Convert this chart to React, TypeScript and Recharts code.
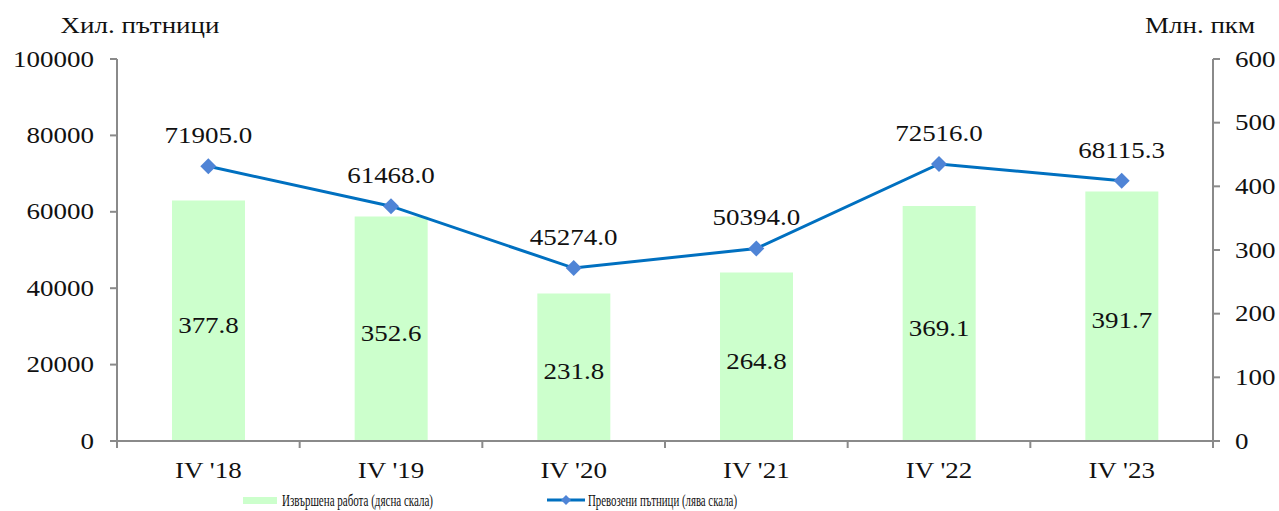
import React from 'react';
import { ComposedChart, Bar, Line, XAxis, YAxis, Legend, LabelList } from 'recharts';

const categories = ["IV '18", "IV '19", "IV '20", "IV '21", "IV '22", "IV '23"];
const passengers = [71905.0, 61468.0, 45274.0, 50394.0, 72516.0, 68115.3];
const work = [377.8, 352.6, 231.8, 264.8, 369.1, 391.7];
const leftTicks = [0, 20000, 40000, 60000, 80000, 100000];
const rightTicks = [0, 100, 200, 300, 400, 500, 600];

const CHART_W = 1279;
const CHART_H = 511;
const LEFT_W = 117;
const RIGHT_W = 66;
const BAND = (CHART_W - LEFT_W - RIGHT_W) / categories.length;

const FONT = '"Liberation Serif", "Times New Roman", serif';
const TEXT = '#111111';
const AXIS = '#8a8a8a';
const STRETCH = 1.2;

const data = categories.map((name, i) => ({ name, passengers: passengers[i], work: work[i] }));

// wide serif text, like the original
const Wide = ({ x, y, anchor, children, size = 22.5 }: any) => (
    <g transform={`translate(${x},${y})`}>
        <text transform={`scale(${STRETCH},1)`} textAnchor={anchor} fontFamily={FONT} fontSize={size} fill={TEXT}>
            {children}
        </text>
    </g>
);

const LeftTick = ({ x, y, payload }: any) => (
    <Wide x={x} y={y + 7.5} anchor="end">{payload.value}</Wide>
);

const RightTick = ({ x, y, payload }: any) => (
    <Wide x={x} y={y + 7.5} anchor="start">{payload.value}</Wide>
);

const CatTick = ({ x, y, payload, index }: any) => (
    <g>
        <line x1={x - BAND / 2} x2={x - BAND / 2} y1={y} y2={y + 7} stroke={AXIS} strokeWidth={2} />
        {index === categories.length - 1 && (
            <line x1={x + BAND / 2} x2={x + BAND / 2} y1={y} y2={y + 7} stroke={AXIS} strokeWidth={2} />
        )}
        <Wide x={x} y={y + 36.5} anchor="middle">{payload.value}</Wide>
    </g>
);

const Diamond = ({ cx, cy }: any) => (
    <polygon
        points={`${cx},${cy - 8} ${cx + 8},${cy} ${cx},${cy + 8} ${cx - 8},${cy}`}
        fill="#4F84D6"
    />
);

const LineLabel = ({ x, y, value }: any) => (
    <Wide x={x} y={y - 23} anchor="middle">{Number(value).toFixed(1)}</Wide>
);

const BarLabel = ({ x, y, width, height, value }: any) => (
    <Wide x={x + width / 2} y={y + height / 2 + 12} anchor="middle">{Number(value).toFixed(1)}</Wide>
);

const LegendBox = () => (
    <svg width={CHART_W} height={24}>
        <rect x={243} y={10} width={34} height={7} fill="#CCFFCC" />
        <text x={282} y={18.5} fontFamily={FONT} fontSize={17} fill={TEXT} textLength={151} lengthAdjust="spacingAndGlyphs">
            Извършена работа (дясна скала)
        </text>
        <line x1={547} x2={585} y1={13} y2={13} stroke="#0070C0" strokeWidth={3} />
        <polygon points="566,8 571,13 566,18 561,13" fill="#4F84D6" />
        <text x={588} y={18.5} fontFamily={FONT} fontSize={17} fill={TEXT} textLength={149} lengthAdjust="spacingAndGlyphs">
            Превозени пътници  (лява скала)
        </text>
    </svg>
);

export default function App() {
    return (
        <div style={{ position: 'absolute', left: 0, top: 0, width: CHART_W, height: CHART_H }}>
            <ComposedChart
                width={CHART_W}
                height={CHART_H}
                data={data}
                margin={{ top: 59, right: 0, bottom: 0, left: 0 }}
            >
                <XAxis
                    dataKey="name"
                    height={46}
                    tickLine={false}
                    tickSize={0}
                    tickMargin={0}
                    axisLine={{ stroke: AXIS, strokeWidth: 2 }}
                    tick={<CatTick />}
                    interval={0}
                />
                <YAxis
                    yAxisId="left"
                    width={LEFT_W}
                    domain={[0, 100000]}
                    ticks={leftTicks}
                    tickSize={7}
                    tickMargin={16}
                    axisLine={{ stroke: AXIS, strokeWidth: 2 }}
                    tickLine={{ stroke: AXIS, strokeWidth: 2 }}
                    tick={<LeftTick />}
                    label={{
                        content: ({ viewBox }: any) => (
                            <Wide x={viewBox.x + viewBox.width + 23} y={viewBox.y - 26.5} anchor="middle">Хил. пътници</Wide>
                        ),
                    }}
                />
                <YAxis
                    yAxisId="right"
                    orientation="right"
                    width={RIGHT_W}
                    domain={[0, 600]}
                    ticks={rightTicks}
                    tickSize={7}
                    tickMargin={15}
                    axisLine={{ stroke: AXIS, strokeWidth: 2 }}
                    tickLine={{ stroke: AXIS, strokeWidth: 2 }}
                    tick={<RightTick />}
                    label={{
                        content: ({ viewBox }: any) => (
                            <Wide x={viewBox.x - 13} y={viewBox.y - 26.5} anchor="middle">Млн. пкм</Wide>
                        ),
                    }}
                />
                <Legend
                    verticalAlign="bottom"
                    content={<LegendBox />}
                    wrapperStyle={{ left: 0, bottom: 0, width: CHART_W, height: 24, lineHeight: 0 }}
                />
                <Bar yAxisId="right" dataKey="work" fill="#CCFFCC" barSize={73} isAnimationActive={false}>
                    <LabelList dataKey="work" content={<BarLabel />} />
                </Bar>
                <Line
                    yAxisId="left"
                    dataKey="passengers"
                    stroke="#0070C0"
                    strokeWidth={3}
                    dot={<Diamond />}
                    activeDot={false}
                    isAnimationActive={false}
                >
                    <LabelList dataKey="passengers" content={<LineLabel />} />
                </Line>
            </ComposedChart>
        </div>
    );
}
